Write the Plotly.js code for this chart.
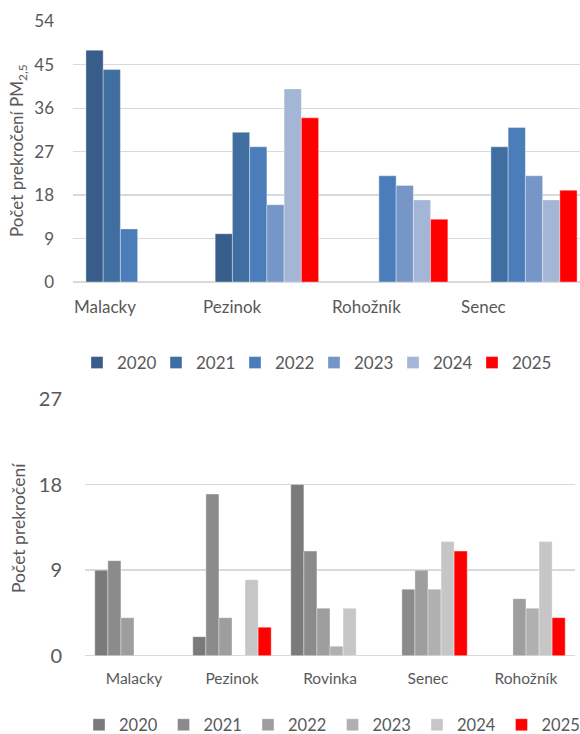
<!DOCTYPE html>
<html>
<head>
<meta charset="utf-8">
<script src="https://cdn.plot.ly/plotly-3.0.1.min.js"></script>
<style>html,body{margin:0;padding:0;background:#fff;}#chart{width:580px;height:734px;}</style>
</head>
<body>
<div id="chart"></div>
<script>
const years = ['2020', '2021', '2022', '2023', '2024', '2025'];

const topCategories = ['Malacky', 'Pezinok', 'Rohožník', 'Senec'];
const top2020 = [48, 10, null, null];
const top2021 = [44, 31, null, 28];
const top2022 = [11, 28, 22, 32];
const top2023 = [null, 16, 20, 22];
const top2024 = [null, 40, 17, 17];
const top2025 = [null, 34, 13, 19];
const topTicks = [0, 9, 18, 27, 36, 45, 54];

const bottomCategories = ['Malacky', 'Pezinok', 'Rovinka', 'Senec', 'Rohožník'];
const bot2020 = [9, 2, 18, null, null];
const bot2021 = [10, 17, 11, 7, null];
const bot2022 = [4, 4, 5, 9, 6];
const bot2023 = [null, null, 1, 7, 5];
const bot2024 = [null, 8, 5, 12, 12];
const bot2025 = [null, 3, null, 11, 4];
const bottomTicks = [0, 9, 18, 27];

const topColors = ['#395d8a', '#416ea1', '#4a7dba', '#7596c6', '#a3b6d6', '#ff0000'];
const botColors = ['#7a7a7a', '#8b8b8b', '#9e9e9e', '#b0b0b0', '#c6c6c6', '#ff0000'];

const topSeries = [top2020, top2021, top2022, top2023, top2024, top2025];
const botSeries = [bot2020, bot2021, bot2022, bot2023, bot2024, bot2025];

const W = 580, H = 734;
const FONT = 'Lato, "Open Sans", sans-serif';
const TXT = '#595959';

const traces = [];
topSeries.forEach((vals, i) => {
  traces.push({
    type: 'bar', name: years[i], x: topCategories, y: vals,
    xaxis: 'x', yaxis: 'y', legend: 'legend',
    marker: {color: topColors[i], line: {color: 'rgba(255,255,255,0.45)', width: 0.8}},
    hoverinfo: 'x+y+name'
  });
});
botSeries.forEach((vals, i) => {
  traces.push({
    type: 'bar', name: years[i], x: bottomCategories, y: vals,
    xaxis: 'x2', yaxis: 'y2', legend: 'legend2',
    marker: {color: botColors[i], line: {color: 'rgba(255,255,255,0.45)', width: 0.8}},
    hoverinfo: 'x+y+name'
  });
});

const px = v => v / W;
const py = v => (H - v) / H;

// Top chart category labels are left-aligned at the start of each category slot
const topLabelAnnotations = topCategories.map(c => ({
  text: c, xref: 'x', yref: 'y', x: c, y: 0,
  xanchor: 'left', yanchor: 'middle', xshift: -66, yshift: -25,
  showarrow: false, font: {size: 17, color: TXT, family: FONT}
}));

const layout = {
  width: W, height: H,
  margin: {l: 0, r: 0, t: 0, b: 0, pad: 0, autoexpand: false},
  paper_bgcolor: '#ffffff', plot_bgcolor: '#ffffff',
  font: {family: FONT, color: TXT, size: 16},
  barmode: 'group', bargap: 0.2, bargroupgap: 0,
  xaxis: {
    domain: [px(73), 1], anchor: 'y', type: 'category',
    categoryorder: 'array', categoryarray: topCategories,
    range: [-0.5, -0.5 + (580 - 73) / 129.25],
    showgrid: false, showline: false, zeroline: false, ticks: '',
    showticklabels: false, fixedrange: true, automargin: false
  },
  yaxis: {
    domain: [py(282), py(21.3)], anchor: 'x',
    range: [0, 54], tickvals: topTicks, ticktext: topTicks.map(String),
    showgrid: true, gridcolor: '#d9d9d9', gridwidth: 1.4,
    zeroline: true, zerolinecolor: '#d9d9d9', zerolinewidth: 1.4,
    showline: false, ticks: '',
    tickfont: {size: 17, color: TXT, family: FONT},
    ticklabelstandoff: 18, fixedrange: true, automargin: false
  },
  xaxis2: {
    domain: [px(85), px(575)], anchor: 'y2', type: 'category',
    categoryorder: 'array', categoryarray: bottomCategories,
    range: [-0.5, 4.5],
    showgrid: false, showline: false, zeroline: false, ticks: '',
    tickfont: {size: 15.5, color: TXT, family: FONT},
    ticklabelstandoff: 12, fixedrange: true, automargin: false
  },
  yaxis2: {
    domain: [py(655.7), py(399)], anchor: 'x2',
    range: [0, 27], tickvals: bottomTicks, ticktext: bottomTicks.map(String),
    showgrid: true, gridcolor: '#d9d9d9', gridwidth: 1.4,
    zeroline: true, zerolinecolor: '#d9d9d9', zerolinewidth: 1.4,
    showline: false, ticks: '',
    tickfont: {size: 20, color: TXT, family: FONT},
    ticklabelstandoff: 22, fixedrange: true, automargin: false
  },
  legend: {
    orientation: 'h', x: px(77), xanchor: 'left', y: py(363), yanchor: 'middle',
    font: {size: 17, color: TXT, family: FONT},
    entrywidth: 34, entrywidthmode: 'pixels',
    traceorder: 'normal', bgcolor: 'rgba(0,0,0,0)'
  },
  legend2: {
    orientation: 'h', x: px(79), xanchor: 'left', y: py(725), yanchor: 'middle',
    font: {size: 16.5, color: TXT, family: FONT},
    entrywidth: 39.5, entrywidthmode: 'pixels',
    traceorder: 'normal', bgcolor: 'rgba(0,0,0,0)'
  },
  annotations: [
    {text: 'Počet prekročení PM<sub>2,5</sub>', xref: 'paper', yref: 'paper',
     x: px(18), y: py(151), xanchor: 'center', yanchor: 'middle', textangle: -90,
     showarrow: false, font: {size: 17, color: TXT, family: FONT}},
    {text: 'Počet prekročení', xref: 'paper', yref: 'paper',
     x: px(18), y: py(528), xanchor: 'center', yanchor: 'middle', textangle: -90,
     showarrow: false, font: {size: 17.5, color: TXT, family: FONT}}
  ].concat(topLabelAnnotations),
  showlegend: true
};

Plotly.newPlot('chart', traces, layout, {displayModeBar: false, staticPlot: true});
</script>
</body>
</html>
